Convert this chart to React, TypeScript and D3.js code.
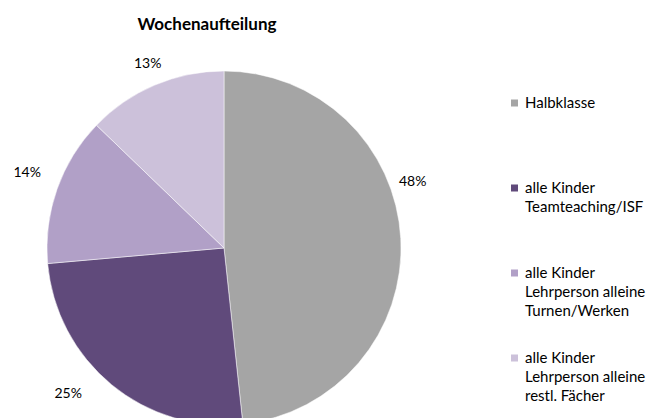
import React from "react";
import * as d3 from "d3";

// Wochenaufteilung - Anteile in Prozent (aus dem Bild geschätzt)
const categories = [
  ["Halbklasse"],
  ["alle Kinder", "Teamteaching/ISF"],
  ["alle Kinder", "Lehrperson alleine", "Turnen/Werken"],
  ["alle Kinder", "Lehrperson alleine", "restl. Fächer"],
];
const values = [48.3, 25.3, 13.6, 12.8];
const colors = ["#A5A5A5", "#604A7B", "#B1A0C7", "#CCC1DA"];

// kleine Verschiebungen der Prozent-Labels (best fit wie in Excel)
const labelNudge: [number, number][] = [
  [-6, -57],
  [-32, -6],
  [-13, -12],
  [0, -6],
];

const W = 646;
const H = 418;
const cx = 224;
const cy = 248;
const radius = 177;
const font = "Lato, 'Open Sans', sans-serif";

export default function App() {
  const total = d3.sum(values);
  const pie = d3
    .pie<number>()
    .sort(null)
    .value((d) => d);
  const arcs = pie(values);

  const arc = d3.arc<d3.PieArcDatum<number>>().innerRadius(0).outerRadius(radius);
  const labelArc = d3
    .arc<d3.PieArcDatum<number>>()
    .innerRadius(195)
    .outerRadius(195);

  const legendX = 511;
  const legendY = d3
    .scalePoint<number>()
    .domain(d3.range(categories.length))
    .range([103, 358]);

  return (
    <svg
      width={W}
      height={H}
      style={{ position: "absolute", left: 0, top: 0, background: "#fff" }}
      fontFamily={font}
    >
      <text
        x={207}
        y={30}
        textAnchor="middle"
        fontWeight="bold"
        fontSize={17}
        fill="#000"
      >
        Wochenaufteilung
      </text>

      <g transform={`translate(${cx},${cy})`}>
        {arcs.map((a, i) => (
          <path
            key={i}
            d={arc(a) || ""}
            fill={colors[i]}
            stroke="#fff"
            strokeWidth={0.5}
          />
        ))}
        {arcs.map((a, i) => {
          const [x, y] = labelArc.centroid(a);
          return (
            <text
              key={"l" + i}
              x={x + labelNudge[i][0]}
              y={y + labelNudge[i][1]}
              textAnchor="middle"
              dominantBaseline="central"
              fontSize={14}
              fill="#000"
            >
              {d3.format(".0%")(a.data / total)}
            </text>
          );
        })}
      </g>

      <g>
        {categories.map((lines, i) => {
          const y = legendY(i) as number;
          return (
            <g key={i}>
              <rect
                x={legendX}
                y={y - 3.5}
                width={7}
                height={7}
                fill={colors[i]}
              />
              <text x={legendX + 14} y={y + 5} fontSize={15} fill="#000">
                {lines.map((t, j) => (
                  <tspan key={j} x={legendX + 14} dy={j === 0 ? 0 : 19}>
                    {t}
                  </tspan>
                ))}
              </text>
            </g>
          );
        })}
      </g>
    </svg>
  );
}
